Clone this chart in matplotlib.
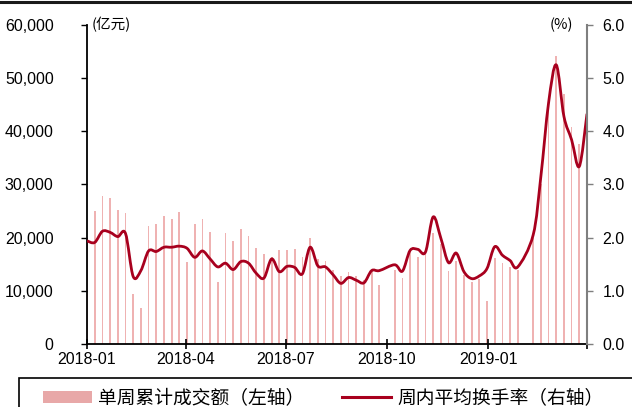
import matplotlib
matplotlib.use('Agg')
import matplotlib.pyplot as plt
from matplotlib.patches import Rectangle, Patch, PathPatch
from matplotlib.lines import Line2D
from matplotlib.path import Path
from matplotlib.ticker import FuncFormatter
import matplotlib.dates as mdates
import numpy as np
import pandas as pd

plt.rcParams['font.family'] = ['Liberation Sans', 'Noto Sans CJK SC', 'DejaVu Sans']
cjk = ['Noto Sans CJK SC', 'DejaVu Sans']

# 周度数据（每周一），2018-10-01 和 2019-02-04 两周休市
weeks = pd.date_range('2018-01-01', '2019-04-01', freq='W-MON')
weeks = weeks.drop([pd.Timestamp('2018-10-01'), pd.Timestamp('2019-02-04')])

# 单周累计成交额（亿元）
turnover = [20000, 25100, 27800, 27400, 25200, 24600, 9400, 6800, 22100, 22500,
            24100, 23500, 24900, 15400, 22500, 23500, 21100, 11700, 20900, 19400,
            21600, 20300, 18000, 16900, 16300, 17700, 17700, 17900, 16400, 19900,
            15900, 15600, 14000, 12700, 13600, 12700, 12000, 14000, 11100, 14000,
            12500, 17400, 16300, 17700, 20900, 18800, 13800, 15600, 13000, 11700,
            12300, 8000, 16200, 15300, 14400, 13900, 19900, 30000, 44000, 54200,
            47000, 40900, 37700, 40000]

# 周内平均换手率（%）
turnover_rate = [1.94, 1.91, 2.12, 2.10, 2.02, 2.08, 1.27, 1.38, 1.75, 1.74,
                 1.82, 1.82, 1.84, 1.80, 1.63, 1.75, 1.60, 1.45, 1.52, 1.40,
                 1.55, 1.52, 1.33, 1.24, 1.60, 1.36, 1.46, 1.44, 1.32, 1.82,
                 1.47, 1.45, 1.30, 1.14, 1.25, 1.20, 1.15, 1.38, 1.38, 1.49,
                 1.37, 1.76, 1.78, 1.73, 2.39, 1.99, 1.53, 1.71, 1.36, 1.23,
                 1.28, 1.42, 1.83, 1.67, 1.57, 1.45, 2.05, 3.15, 4.53, 5.25,
                 4.28, 3.84, 3.34, 4.33]

tick_dates = pd.to_datetime(['2018-01-01', '2018-04-01', '2018-07-01',
                             '2018-10-01', '2019-01-01', '2019-04-01'])
tick_labels = ['2018-01', '2018-04', '2018-07', '2018-10', '2019-01', '']

bar_color = '#EFB2B2'
line_color = '#A8001E'


def smooth_path(x, y):
    # 平滑折线（类似 Excel 的平滑线），贝塞尔曲线穿过每个数据点
    x = np.asarray(x, float)
    y = np.asarray(y, float)
    verts = [(x[0], y[0])]
    codes = [Path.MOVETO]
    n = len(x)
    for i in range(n - 1):
        x0, y0 = (x[i - 1], y[i - 1]) if i > 0 else (x[i], y[i])
        x3, y3 = (x[i + 2], y[i + 2]) if i + 2 < n else (x[i + 1], y[i + 1])
        c1 = (x[i] + (x[i + 1] - x0) / 6, y[i] + (y[i + 1] - y0) / 6)
        c2 = (x[i + 1] - (x3 - x[i]) / 6, y[i + 1] - (y3 - y[i]) / 6)
        verts += [c1, c2, (x[i + 1], y[i + 1])]
        codes += [Path.CURVE4] * 3
    return Path(verts, codes)


fig = plt.figure(figsize=(6.32, 4.07), dpi=100)
ax = fig.add_axes([0.1377, 0.1548, 0.7911, 0.7838])
ax2 = ax.twinx()

ax.bar(weeks, turnover, width=1.6, color=bar_color, linewidth=0, zorder=1)
ax2.add_patch(PathPatch(smooth_path(mdates.date2num(weeks), turnover_rate),
                        facecolor='none', edgecolor=line_color, linewidth=2.0,
                        joinstyle='round', capstyle='butt'))

ax.set_xlim(pd.Timestamp('2018-01-01'), pd.Timestamp('2019-04-01'))
ax.set_ylim(0, 60000)
ax2.set_ylim(0, 6)
ax.set_yticks(range(0, 60001, 10000))
ax2.set_yticks([0, 1, 2, 3, 4, 5, 6])
ax.yaxis.set_major_formatter(FuncFormatter(lambda v, p: f'{int(v):,}'))
ax2.yaxis.set_major_formatter(FuncFormatter(lambda v, p: f'{v:.1f}'))
ax.set_xticks(tick_dates)
ax.set_xticklabels(tick_labels)

for a in (ax, ax2):
    a.spines['top'].set_visible(False)
    a.patch.set_visible(False)
ax.spines['right'].set_visible(False)
ax2.spines['left'].set_visible(False)
ax2.spines['bottom'].set_visible(False)
ax.spines['left'].set_linewidth(1.3)
ax.spines['bottom'].set_linewidth(1.3)
ax2.spines['right'].set_color('#7f7f7f')
ax2.spines['right'].set_linewidth(1.5)

ax.tick_params(axis='y', direction='out', length=4, width=1, pad=20, labelsize=11.5)
ax.tick_params(axis='x', direction='inout', length=7, width=1.2, pad=2, labelsize=11.5)
ax2.tick_params(axis='y', direction='out', length=4, width=1, pad=7, labelsize=11.5,
                color='#7f7f7f')

# 单位
fig.text(92 / 632, 1 - 25 / 407, '(亿元)', family=cjk, fontsize=10.5, va='center', ha='left')
fig.text(573 / 632, 1 - 25 / 407, '(%)', family=cjk, fontsize=10.5, va='center', ha='right')

# 顶部横线
fig.add_artist(Line2D([0, 1], [1 - 1.5 / 407, 1 - 1.5 / 407], color='#1a1a1a',
                      linewidth=2.2, transform=fig.transFigure))

# 图例框（右侧和底部被截断）
fig.add_artist(Rectangle((19 / 632, -0.05), 1.1, 0.05 + 1 - 378 / 407,
                         transform=fig.transFigure, fill=False,
                         edgecolor='black', linewidth=1.2))
handles = [Patch(facecolor='#E8A8A8', edgecolor='none'),
           Line2D([], [], color=line_color, linewidth=2.2)]
fig.legend(handles, ['单周累计成交额（左轴）', '周内平均换手率（右轴）'],
           loc='center left', bbox_to_anchor=(43 / 632, 1 - 398 / 407),
           ncol=2, frameon=False, prop={'family': cjk, 'size': 13.5},
           handlelength=2.6, handleheight=0.6, handletextpad=0.35,
           columnspacing=2.0, borderaxespad=0, borderpad=0)

fig.savefig('out.png', dpi=100)
